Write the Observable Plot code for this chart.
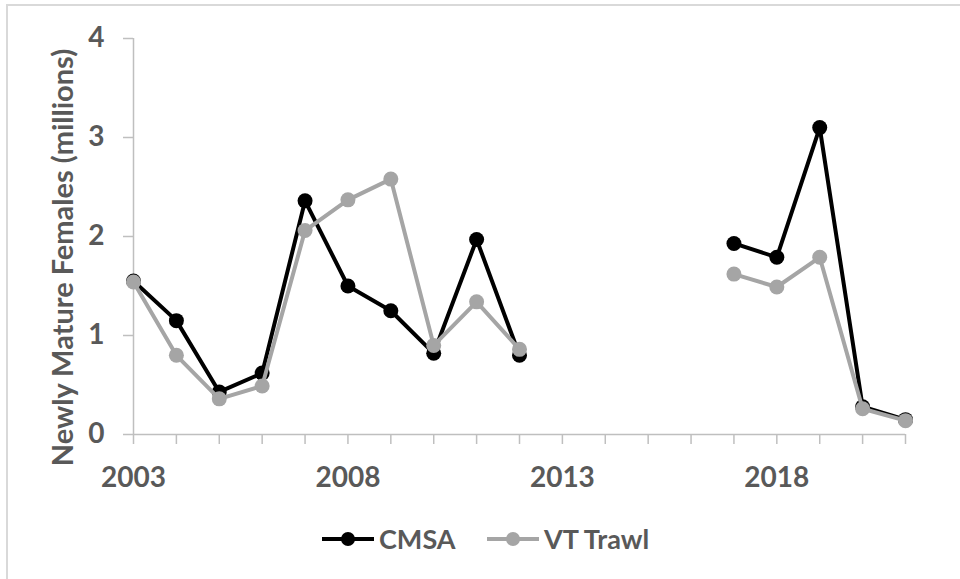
<!DOCTYPE html>
<html>
<head>
<meta charset="utf-8">
<script src="https://cdn.jsdelivr.net/npm/d3@7"></script>
<script src="https://cdn.jsdelivr.net/npm/@observablehq/plot@0.6"></script>
<style>
  html, body { margin: 0; padding: 0; background: #fff; }
  #wrap { position: relative; width: 960px; height: 579px; overflow: hidden; font-family: Lato, "Open Sans", sans-serif; }
  #frame { position: absolute; left: 6px; top: 4px; width: 980px; height: 600px; border-top: 2px solid #d9d9d9; border-left: 2px solid #d9d9d9; }
  #chart { position: absolute; left: 0; top: 0; }
  .leg { position: absolute; top: 522px; display: flex; align-items: center; font-weight: 700; font-size: 27px; color: #595959; }
  .leg svg { margin-right: 3px; }
</style>
</head>
<body>
<div id="wrap">
  <div id="frame"></div>
  <div id="chart"></div>
  <div class="leg" id="leg1" style="left:320px"></div>
  <div class="leg" id="leg2" style="left:485px"></div>
</div>
<script>
const years = [2003,2004,2005,2006,2007,2008,2009,2010,2011,2012,2013,2014,2015,2016,2017,2018,2019,2020,2021];
const cmsa  = [1.55,1.15,0.43,0.62,2.36,1.50,1.25,0.82,1.97,0.80,null,null,null,null,1.93,1.79,3.10,0.28,0.15];
const vtTrawl = [1.54,0.80,0.36,0.49,2.06,2.37,2.58,0.90,1.34,0.86,null,null,null,null,1.62,1.49,1.79,0.26,0.14];
const majorYears = [2003,2008,2013,2018];
const yTicks = [0,1,2,3,4];
const seriesNames = ["CMSA","VT Trawl"];
const seriesColors = ["#000000","#a5a5a5"];
const yLabel = "Newly Mature Females (millions)";

const rows = [];
[cmsa, vtTrawl].forEach((vals, i) => {
  years.forEach((yr, j) => rows.push({series: seriesNames[i], year: yr, value: vals[j] == null ? NaN : vals[j]}));
});

const axisColor = "#bfbfbf";
const textColor = "#595959";

const marks = [
  Plot.ruleY([0], {x1: 2003, x2: 2021, stroke: axisColor, strokeWidth: 1.5}),
  Plot.ruleX([2003], {y1: 0, y2: 4, stroke: axisColor, strokeWidth: 1.5}),
  Plot.axisX({ticks: years, tickSize: 10, tickPadding: 23, stroke: axisColor, strokeWidth: 1.5, fill: textColor,
    tickFormat: d => majorYears.includes(d) ? String(d) : "", fontSize: 28, fontWeight: 700, label: null}),
  Plot.axisY({ticks: yTicks, tickSize: 10, tickPadding: 19, stroke: axisColor, strokeWidth: 1.5, fill: textColor,
    tickFormat: d => String(d), fontSize: 28, fontWeight: 700, label: null}),
  Plot.text([yLabel], {frameAnchor: "left", rotate: -90, dx: -70, dy: 21, text: d => d, fill: textColor,
    fontSize: 29, fontWeight: 700, textAnchor: "middle", lineAnchor: "middle"})
];
seriesNames.forEach((s, i) => {
  const data = rows.filter(r => r.series === s);
  marks.push(Plot.line(data, {x: "year", y: "value", stroke: seriesColors[i], strokeWidth: 4}));
  marks.push(Plot.dot(data, {x: "year", y: "value", fill: seriesColors[i], r: 7.5}));
});

const chart = Plot.plot({
  width: 960,
  height: 500,
  marginLeft: 133,
  marginRight: 55,
  marginTop: 38,
  marginBottom: 66,
  x: {domain: [2003, 2021]},
  y: {domain: [0, 4]},
  style: {fontFamily: "Lato, 'Open Sans', sans-serif", background: "transparent", overflow: "visible"},
  marks
});
document.getElementById("chart").appendChild(chart);

function swatch(color) {
  const ns = "http://www.w3.org/2000/svg";
  const svg = document.createElementNS(ns, "svg");
  svg.setAttribute("width", 56); svg.setAttribute("height", 18);
  const line = document.createElementNS(ns, "line");
  line.setAttribute("x1", 2); line.setAttribute("x2", 54); line.setAttribute("y1", 9); line.setAttribute("y2", 9);
  line.setAttribute("stroke", color); line.setAttribute("stroke-width", 4);
  const c = document.createElementNS(ns, "circle");
  c.setAttribute("cx", 28); c.setAttribute("cy", 9); c.setAttribute("r", 7); c.setAttribute("fill", color);
  svg.appendChild(line); svg.appendChild(c);
  return svg;
}
["leg1","leg2"].forEach((id, i) => {
  const el = document.getElementById(id);
  el.appendChild(swatch(seriesColors[i]));
  const span = document.createElement("span");
  span.textContent = seriesNames[i];
  el.appendChild(span);
});
</script>
</body>
</html>
